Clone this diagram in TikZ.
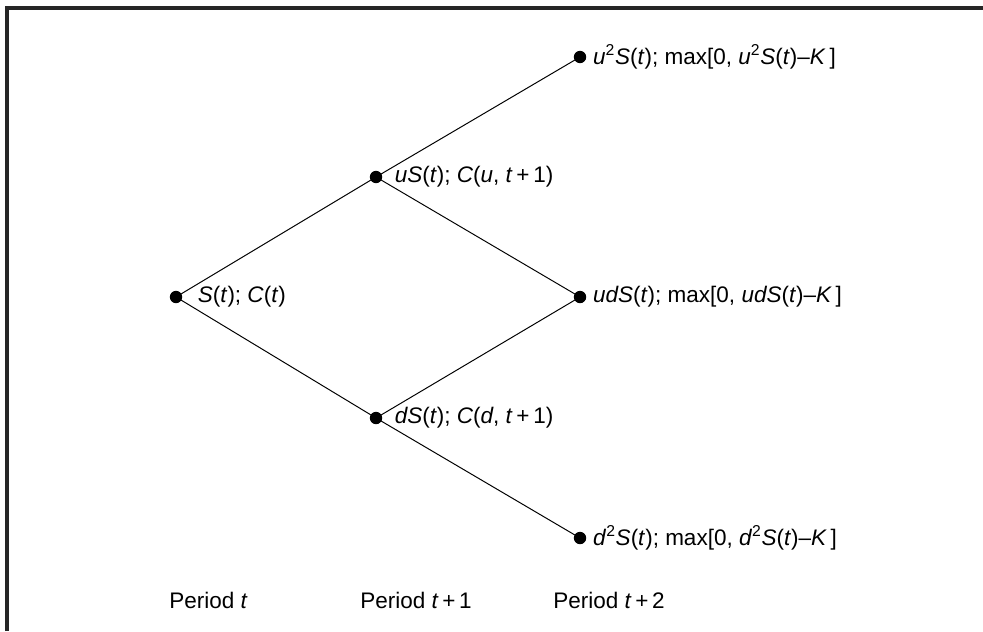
\documentclass[tikz,border=0pt]{standalone}
\usepackage{fontspec}
\setmainfont{Liberation Sans}
\usetikzlibrary{positioning}

\newcommand{\var}[1]{\textit{#1}}
\newcommand{\sqr}{\textsuperscript{2}}

\begin{document}
\begin{tikzpicture}[
  x=0.025cm, y=-0.025cm,
  font=\fontsize{16}{19}\selectfont,
  dot/.style={circle, fill=black, inner sep=0pt, minimum size=3.1mm},
  lbl/.style={anchor=west, inner sep=0pt},
  branch/.style={line width=0.7pt},
  frame/.style={line width=2.2pt, black!85}
]
  \useasboundingbox (0,0) rectangle (983,631);

  % Okvir (samo gore i lijevo)
  \draw[frame] (7,631) -- (7,8) -- (983,8);

  % Cvorovi stabla
  \node[dot] (s0) at (176,297) {};
  \node[dot] (su) at (376,177) {};
  \node[dot] (sd) at (376,418) {};
  \node[dot] (suu) at (580,57) {};
  \node[dot] (sud) at (580,297) {};
  \node[dot] (sdd) at (580,538) {};

  % Oznake cvorova
  \node[lbl, right=3.8mm of s0] (l0) {\var{S}(\var{t}); \var{C}(\var{t})};
  \node[lbl, right=3mm of su] (lu) {\var{uS}(\var{t}); \var{C}(\var{u}, \var{t}\,+\,1)};
  \node[lbl, right=3mm of sd] (ld) {\var{dS}(\var{t}); \var{C}(\var{d}, \var{t}\,+\,1)};
  \node[lbl, right=1.6mm of suu] (luu)
    {\var{u}\sqr\var{S}(\var{t}); max[0,~\var{u}\sqr\var{S}(\var{t})--\var{K}\,]};
  \node[lbl, right=1.6mm of sud] (lud)
    {\var{udS}(\var{t}); max[0,~\var{udS}(\var{t})--\var{K}\,]};
  \node[lbl, right=1.6mm of sdd] (ldd)
    {\var{d}\sqr\var{S}(\var{t}); max[0,~\var{d}\sqr\var{S}(\var{t})--\var{K}\,]};

  % Periode
  \node[lbl] (p0) at (169,600) {Period \var{t}};
  \node[lbl] (p1) at (360,600) {Period \var{t}\,+\,1};
  \node[lbl] (p2) at (553,600) {Period \var{t}\,+\,2};

  % Grane
  \draw[branch] (s0.center) -- (su.center);
  \draw[branch] (s0.center) -- (sd.center);
  \draw[branch] (su.center) -- (suu.center);
  \draw[branch] (su.center) -- (sud.center);
  \draw[branch] (sd.center) -- (sud.center);
  \draw[branch] (sd.center) -- (sdd.center);
\end{tikzpicture}
\end{document}
